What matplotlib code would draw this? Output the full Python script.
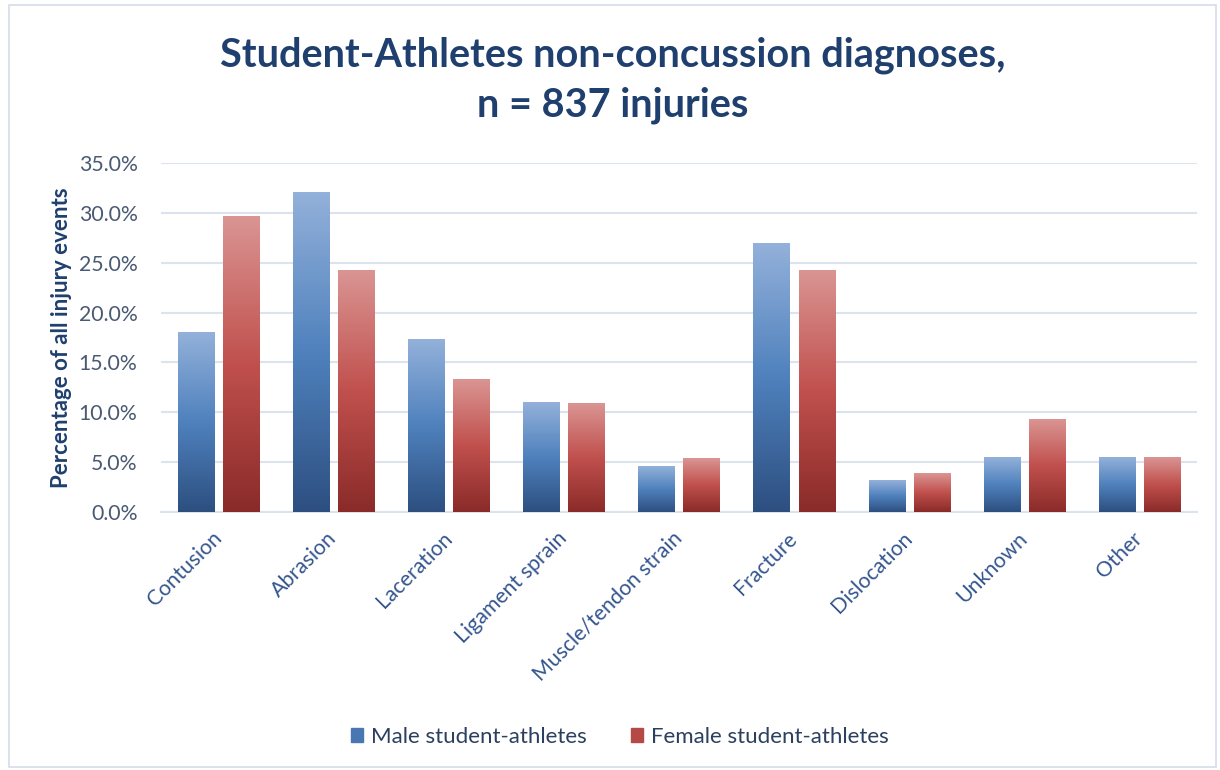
import matplotlib
matplotlib.use("Agg")
import matplotlib.pyplot as plt
import numpy as np
from matplotlib.colors import LinearSegmentedColormap
from matplotlib.patches import Rectangle

plt.rcParams["font.family"] = ["Lato", "DejaVu Sans"]

CATEGORIES = ["Contusion", "Abrasion", "Laceration", "Ligament sprain",
              "Muscle/tendon strain", "Fracture", "Dislocation", "Unknown", "Other"]
MALE = [18.0, 32.1, 17.3, 11.0, 4.6, 27.0, 3.2, 5.5, 5.5]
FEMALE = [29.7, 24.3, 13.3, 10.9, 5.4, 24.3, 3.9, 9.3, 5.5]
SERIES = ["Male student-athletes", "Female student-athletes"]
YTICKS = [0, 5, 10, 15, 20, 25, 30, 35]

NAVY = "#1f3f6e"
BLUE_CMAP = LinearSegmentedColormap.from_list("blue", ["#2d4f80", "#4f81bd", "#93b1da"])
RED_CMAP = LinearSegmentedColormap.from_list("red", ["#8a2b29", "#c0504d", "#da9593"])


def gradient_bars(ax, xs, heights, width, cmap, label):
    bars = ax.bar(xs, heights, width, color=cmap(0.5), label=label, zorder=2)
    grad = np.linspace(0, 1, 256).reshape(-1, 1)
    for rect in bars:
        x0 = rect.get_x()
        h = rect.get_height()
        im = ax.imshow(grad, cmap=cmap, origin="lower", aspect="auto",
                       extent=(x0, x0 + rect.get_width(), 0, h), zorder=3)
        im.set_clip_path(rect)
        rect.set_facecolor("none")
        rect.set_edgecolor("none")
    return bars


fig = plt.figure(figsize=(12.2, 7.7), dpi=100)
fig.patches.append(Rectangle((0.007, 0.004), 0.99, 0.989, transform=fig.transFigure,
                             fill=False, edgecolor="#d5dde8", linewidth=1.2))
ax = fig.add_axes([0.132, 0.3355, 0.849, 0.4525])

x = np.arange(len(CATEGORIES))
w = 0.313
off = 0.196
gradient_bars(ax, x - off, MALE, w, BLUE_CMAP, SERIES[0])
gradient_bars(ax, x + off, FEMALE, w, RED_CMAP, SERIES[1])

ax.set_xlim(-0.5, len(CATEGORIES) - 0.5)
ax.set_ylim(0, 35)
ax.set_yticks(YTICKS)
ax.set_yticklabels([f"{v:.1f}%" for v in YTICKS], fontsize=15.3, color="#4a5a72")
ax.set_xticks(x)
ax.set_xticklabels(CATEGORIES, rotation=45, ha="right", va="center",
                   rotation_mode="anchor", fontsize=15.3, color="#34558f")
ax.tick_params(axis="both", length=0)
ax.tick_params(axis="y", pad=17)
ax.tick_params(axis="x", pad=17)
ax.yaxis.grid(True, color="#dbe3ec", linewidth=1.5, zorder=0)
ax.set_axisbelow(True)
for side in ["top", "right", "left"]:
    ax.spines[side].set_visible(False)
ax.spines["bottom"].set_color("#dbe3ec")
ax.spines["bottom"].set_linewidth(1.5)

ax.set_ylabel("Percentage of all injury events", fontsize=16, fontweight="bold",
              color=NAVY, labelpad=5)

fig.text(0.502, 0.928, "Student-Athletes non-concussion diagnoses,", ha="center",
         va="center", fontsize=28.5, fontweight="bold", color=NAVY)
fig.text(0.502, 0.863, "n = 837 injuries", ha="center", va="center",
         fontsize=28.5, fontweight="bold", color=NAVY)

handles = [Rectangle((0, 0), 1, 1, color=BLUE_CMAP(0.4)),
           Rectangle((0, 0), 1, 1, color=RED_CMAP(0.4))]
fig.legend(handles, SERIES, loc="center", bbox_to_anchor=(0.508, 0.043), ncol=2,
           frameon=False, fontsize=16, handlelength=0.55, handleheight=0.55,
           handletextpad=0.35, columnspacing=2.0, labelcolor="#2b3f5e")

fig.savefig("out.png")
